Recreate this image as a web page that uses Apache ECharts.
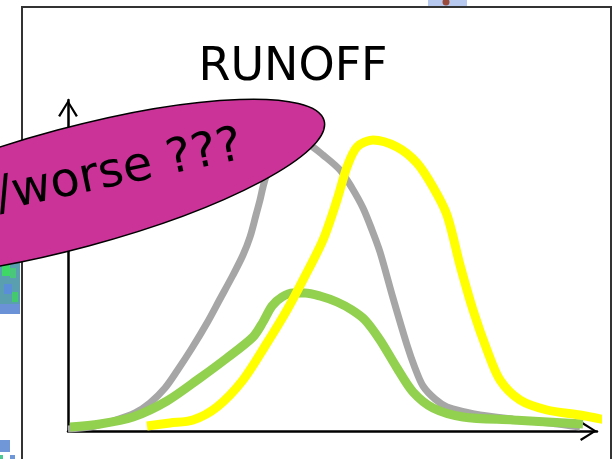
<!DOCTYPE html>
<html>
<head>
<meta charset="utf-8">
<script src="https://cdn.jsdelivr.net/npm/echarts@6/dist/echarts.min.js"></script>
<style>
  html, body { margin: 0; padding: 0; background: #fff; }
  #chart { width: 612px; height: 459px; }
</style>
</head>
<body>
<div id="chart"></div>
<script>
// sketch curves: [time, runoff] in axis units
const grayCurve = [
  [0, 2], [22, 4], [45, 10], [67, 18], [82, 28], [97, 43], [109, 60], [124, 83],
  [139, 108], [152, 132], [165, 156], [175, 176], [182, 194], [188, 216], [192, 231],
  [195, 244], [200, 261], [207, 276], [217, 288], [229, 292], [242, 286], [255, 276],
  [272, 261], [284, 243], [295, 223], [304, 201], [312, 179], [325, 133], [339, 86],
  [347, 63], [355, 45], [367, 32], [379, 24], [397, 19], [412, 16], [452, 11],
  [482, 8], [512, 4],
];
const yellowCurve = [
  [79, 5], [102, 8], [125, 11], [149, 24], [175, 51], [199, 88], [219, 121],
  [235, 151], [255, 191], [269, 231], [279, 264], [289, 284], [305, 291], [329, 284],
  [349, 268], [365, 244], [379, 216], [392, 166], [405, 121], [419, 81], [432, 51],
  [452, 31], [479, 21], [512, 16], [552, 8],
];
const greenCurve = [
  [2, 4], [32, 7], [65, 14], [99, 30], [132, 53], [159, 73], [185, 94], [195, 109],
  [204, 125], [214, 134], [225, 138], [237, 138], [252, 135], [269, 129], [284, 121],
  [297, 111], [312, 91], [329, 63], [345, 39], [365, 23], [395, 14], [445, 11],
  [515, 7],
];
const titleText = "RUNOFF";
const bubbleText = "/worse ???";

const chart = echarts.init(document.getElementById("chart"), null, { renderer: "canvas" });

// open chevron, tip up (axis code turns it along the axis)
const chevron = "path://M0,16 L10,0 L20,16 L18,17.2 L10,3.8 L2,17.2 Z";
const deg = Math.PI / 180;

function curve(data, color, width, z) {
  return {
    type: "line",
    data,
    smooth: 0.3,
    showSymbol: false,
    clip: false,
    z,
    lineStyle: { color, width, cap: "butt" },
    silent: true,
  };
}

const axisCommon = {
  type: "value",
  axisLine: {
    show: true,
    symbol: ["none", chevron],
    symbolSize: [20, 17],
    symbolOffset: [0, -8.5],
    lineStyle: { color: "#000", width: 2.5 },
  },
  axisTick: { show: false },
  axisLabel: { show: false },
  splitLine: { show: false },
};

chart.setOption({
  animation: false,
  backgroundColor: "#fff",
  title: {
    text: titleText,
    left: 288,
    top: 40,
    textAlign: "center",
    textStyle: { fontFamily: "DejaVu Sans", fontSize: 46, fontWeight: "normal", color: "#000" },
  },
  grid: { left: 68, right: 15, top: 100, bottom: 28 },
  xAxis: { ...axisCommon, min: 0, max: 529 },
  yAxis: { ...axisCommon, min: 0, max: 331 },
  series: [
    curve(grayCurve, "#a6a6a6", 7, 2),
    curve(greenCurve, "#92d050", 9, 3),
    curve(yellowCurve, "#ffff00", 9, 4),
  ],
  graphic: [
    // slide frame behind the chart
    {
      type: "rect", z: -10, silent: true,
      shape: { x: 22, y: 7, width: 589, height: 470 },
      style: { fill: "none", stroke: "#333", lineWidth: 2 },
    },
    // bits of neighbouring pictures on the slide
    { type: "rect", z: -10, silent: true, shape: { x: 428, y: 0, width: 39, height: 6 }, style: { fill: "#b7c9ee" } },
    { type: "circle", z: -10, silent: true, shape: { cx: 446, cy: 2, r: 3.5 }, style: { fill: "#9a4a3a" } },
    { type: "rect", z: -10, silent: true, shape: { x: 0, y: 258, width: 20, height: 56 }, style: { fill: "#5a9fb0" } },
    { type: "rect", z: -10, silent: true, shape: { x: 2, y: 262, width: 8, height: 14 }, style: { fill: "#3ed866" } },
    { type: "rect", z: -10, silent: true, shape: { x: 10, y: 268, width: 6, height: 10 }, style: { fill: "#4ac77a" } },
    { type: "rect", z: -10, silent: true, shape: { x: 4, y: 284, width: 8, height: 10 }, style: { fill: "#5b8ed8" } },
    { type: "rect", z: -10, silent: true, shape: { x: 12, y: 292, width: 6, height: 10 }, style: { fill: "#44c96e" } },
    { type: "rect", z: -10, silent: true, shape: { x: 0, y: 304, width: 20, height: 10 }, style: { fill: "#6b92d6" } },
    { type: "rect", z: -10, silent: true, shape: { x: 0, y: 440, width: 10, height: 12 }, style: { fill: "#7097d8" } },
    { type: "rect", z: -10, silent: true, shape: { x: 0, y: 455, width: 3, height: 4 }, style: { fill: "#4cc890" } },
    { type: "rect", z: -10, silent: true, shape: { x: 10, y: 455, width: 5, height: 4 }, style: { fill: "#6d97d8" } },
    // callout bubble over the chart
    {
      type: "ellipse",
      x: 73,
      y: 188,
      rotation: 15 * deg,
      z: 100,
      silent: true,
      shape: { cx: 0, cy: 0, rx: 260, ry: 60 },
      style: { fill: "#cc3399", stroke: "#000", lineWidth: 1.5 },
    },
    {
      type: "text",
      x: 242,
      y: 146,
      rotation: 12 * deg,
      z: 101,
      silent: true,
      style: {
        text: bubbleText,
        fontFamily: "DejaVu Sans",
        fontSize: 48,
        fill: "#000",
        align: "right",
        verticalAlign: "middle",
      },
    },
  ],
});
</script>
</body>
</html>
